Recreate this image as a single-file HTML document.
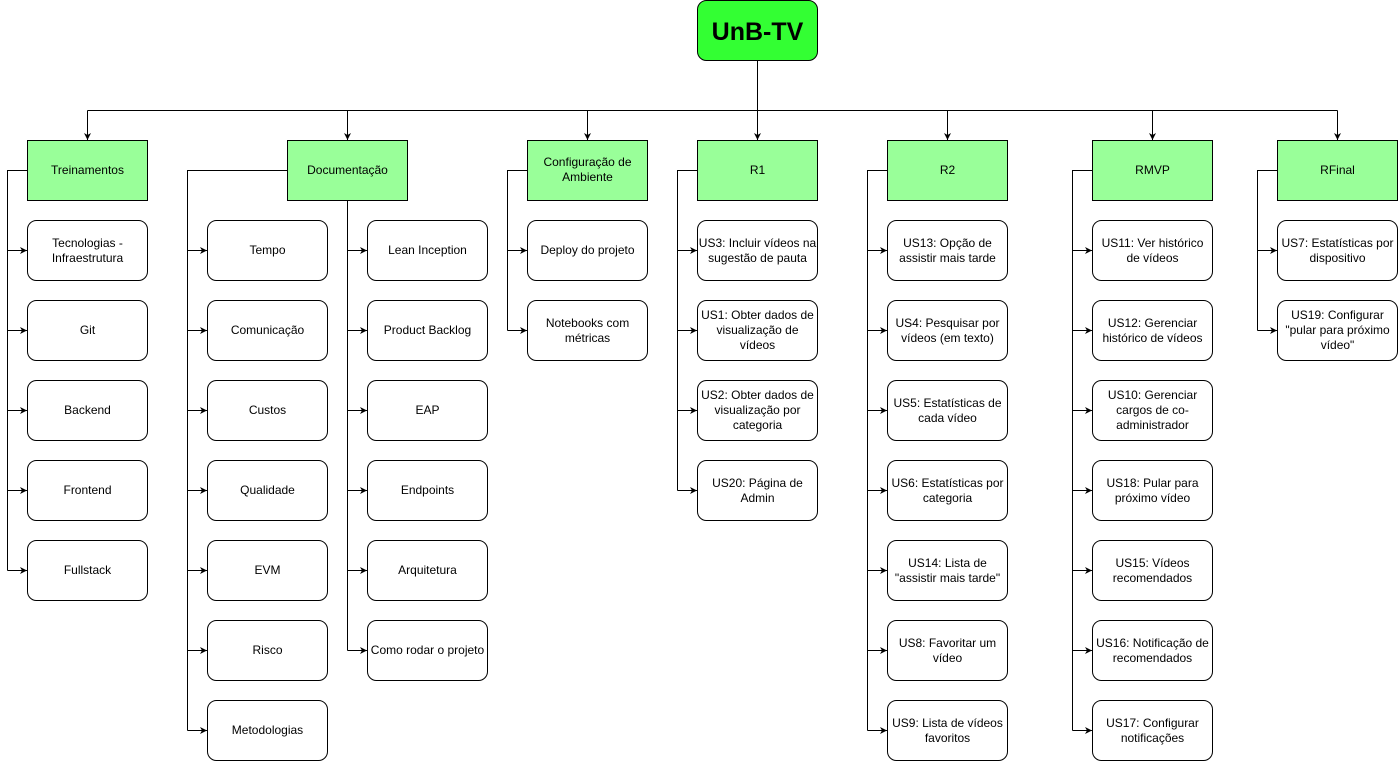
<!DOCTYPE html>
<html><head><meta charset="utf-8"><style>
html,body{margin:0;padding:0;background:#fff;width:1398px;height:761px;overflow:hidden}
svg text{font-family:"Liberation Sans",sans-serif;font-size:12px;fill:#000;text-anchor:middle}
.i{fill:#fff;stroke:#000;stroke-width:1}
.h{fill:#99ff99;stroke:#000;stroke-width:1}
.l{fill:none;stroke:#000;stroke-width:1}
</style></head><body>
<svg width="1398" height="761" xmlns="http://www.w3.org/2000/svg">
<defs><marker id="a" markerWidth="8" markerHeight="8" refX="7" refY="4" orient="auto" markerUnits="userSpaceOnUse"><path d="M0,0.5 L7,4 L0,7.5 L2,4 Z" fill="#000"/></marker></defs>
<!-- root -->
<rect x="697.5" y="0.5" width="120" height="60" rx="9" fill="#33ff33" stroke="#000"/>
<text x="757.5" y="40" style="font-size:25px;font-weight:bold">UnB-TV</text>
<path class="l" d="M757.5,60.5 V110.5 M87.5,110.5 H1337.5"/>
<path class="l" marker-end="url(#a)" d="M87.5,110.5 V140"/>
<path class="l" marker-end="url(#a)" d="M347.5,110.5 V140"/>
<path class="l" marker-end="url(#a)" d="M587.5,110.5 V140"/>
<path class="l" marker-end="url(#a)" d="M757.5,110.5 V140"/>
<path class="l" marker-end="url(#a)" d="M947.5,110.5 V140"/>
<path class="l" marker-end="url(#a)" d="M1152.5,110.5 V140"/>
<path class="l" marker-end="url(#a)" d="M1337.5,110.5 V140"/>
<!-- headers -->
<rect class="h" x="27.5" y="140.5" width="120" height="60"/><text x="87.5" y="174">Treinamentos</text>
<rect class="h" x="287.5" y="140.5" width="120" height="60"/><text x="347.5" y="174">Documentação</text>
<rect class="h" x="527.5" y="140.5" width="120" height="60"/><text x="587.5" y="166">Configuração de</text><text x="587.5" y="181">Ambiente</text>
<rect class="h" x="697.5" y="140.5" width="120" height="60"/><text x="757.5" y="174">R1</text>
<rect class="h" x="887.5" y="140.5" width="120" height="60"/><text x="947.5" y="174">R2</text>
<rect class="h" x="1092.5" y="140.5" width="120" height="60"/><text x="1152.5" y="174">RMVP</text>
<rect class="h" x="1277.5" y="140.5" width="120" height="60"/><text x="1337.5" y="174">RFinal</text>
<!-- trunk lines -->
<path class="l" d="M27.5,170.5 H7.5 V570.5"/>
<path class="l" d="M287.5,170.5 H187.5 V730.5"/>
<path class="l" d="M347.5,200.5 V650.5"/>
<path class="l" d="M527.5,170.5 H507.5 V330.5"/>
<path class="l" d="M697.5,170.5 H677.5 V490.5"/>
<path class="l" d="M887.5,170.5 H867.5 V730.5"/>
<path class="l" d="M1092.5,170.5 H1072.5 V730.5"/>
<path class="l" d="M1277.5,170.5 H1257.5 V330.5"/>
<!-- branch arrows -->
<g class="l" marker-end="url(#a)">
<path d="M7.5,250.5 H27"/><path d="M7.5,330.5 H27"/><path d="M7.5,410.5 H27"/><path d="M7.5,490.5 H27"/><path d="M7.5,570.5 H27"/>
<path d="M187.5,250.5 H207"/><path d="M187.5,330.5 H207"/><path d="M187.5,410.5 H207"/><path d="M187.5,490.5 H207"/><path d="M187.5,570.5 H207"/><path d="M187.5,650.5 H207"/><path d="M187.5,730.5 H207"/>
<path d="M347.5,250.5 H367"/><path d="M347.5,330.5 H367"/><path d="M347.5,410.5 H367"/><path d="M347.5,490.5 H367"/><path d="M347.5,570.5 H367"/><path d="M347.5,650.5 H367"/>
<path d="M507.5,250.5 H527"/><path d="M507.5,330.5 H527"/>
<path d="M677.5,250.5 H697"/><path d="M677.5,330.5 H697"/><path d="M677.5,410.5 H697"/><path d="M677.5,490.5 H697"/>
<path d="M867.5,250.5 H887"/><path d="M867.5,330.5 H887"/><path d="M867.5,410.5 H887"/><path d="M867.5,490.5 H887"/><path d="M867.5,570.5 H887"/><path d="M867.5,650.5 H887"/><path d="M867.5,730.5 H887"/>
<path d="M1072.5,250.5 H1092"/><path d="M1072.5,330.5 H1092"/><path d="M1072.5,410.5 H1092"/><path d="M1072.5,490.5 H1092"/><path d="M1072.5,570.5 H1092"/><path d="M1072.5,650.5 H1092"/><path d="M1072.5,730.5 H1092"/>
<path d="M1257.5,250.5 H1277"/><path d="M1257.5,330.5 H1277"/>
</g>
<!-- Treinamentos -->
<rect class="i" x="27.5" y="220.5" width="120" height="60" rx="9"/><text x="87.5" y="247">Tecnologias -</text><text x="87.5" y="262">Infraestrutura</text>
<rect class="i" x="27.5" y="300.5" width="120" height="60" rx="9"/><text x="87.5" y="334">Git</text>
<rect class="i" x="27.5" y="380.5" width="120" height="60" rx="9"/><text x="87.5" y="414">Backend</text>
<rect class="i" x="27.5" y="460.5" width="120" height="60" rx="9"/><text x="87.5" y="494">Frontend</text>
<rect class="i" x="27.5" y="540.5" width="120" height="60" rx="9"/><text x="87.5" y="574">Fullstack</text>
<!-- Documentação A -->
<rect class="i" x="207.5" y="220.5" width="120" height="60" rx="9"/><text x="267.5" y="254">Tempo</text>
<rect class="i" x="207.5" y="300.5" width="120" height="60" rx="9"/><text x="267.5" y="334">Comunicação</text>
<rect class="i" x="207.5" y="380.5" width="120" height="60" rx="9"/><text x="267.5" y="414">Custos</text>
<rect class="i" x="207.5" y="460.5" width="120" height="60" rx="9"/><text x="267.5" y="494">Qualidade</text>
<rect class="i" x="207.5" y="540.5" width="120" height="60" rx="9"/><text x="267.5" y="574">EVM</text>
<rect class="i" x="207.5" y="620.5" width="120" height="60" rx="9"/><text x="267.5" y="654">Risco</text>
<rect class="i" x="207.5" y="700.5" width="120" height="60" rx="9"/><text x="267.5" y="734">Metodologias</text>
<!-- Documentação B -->
<rect class="i" x="367.5" y="220.5" width="120" height="60" rx="9"/><text x="427.5" y="254">Lean Inception</text>
<rect class="i" x="367.5" y="300.5" width="120" height="60" rx="9"/><text x="427.5" y="334">Product Backlog</text>
<rect class="i" x="367.5" y="380.5" width="120" height="60" rx="9"/><text x="427.5" y="414">EAP</text>
<rect class="i" x="367.5" y="460.5" width="120" height="60" rx="9"/><text x="427.5" y="494">Endpoints</text>
<rect class="i" x="367.5" y="540.5" width="120" height="60" rx="9"/><text x="427.5" y="574">Arquitetura</text>
<rect class="i" x="367.5" y="620.5" width="120" height="60" rx="9"/><text x="427.5" y="654">Como rodar o projeto</text>
<!-- Config -->
<rect class="i" x="527.5" y="220.5" width="120" height="60" rx="9"/><text x="587.5" y="254">Deploy do projeto</text>
<rect class="i" x="527.5" y="300.5" width="120" height="60" rx="9"/><text x="587.5" y="327">Notebooks com</text><text x="587.5" y="342">métricas</text>
<!-- R1 -->
<rect class="i" x="697.5" y="220.5" width="120" height="60" rx="9"/><text x="757.5" y="247">US3: Incluir vídeos na</text><text x="757.5" y="262">sugestão de pauta</text>
<rect class="i" x="697.5" y="300.5" width="120" height="60" rx="9"/><text x="757.5" y="319">US1: Obter dados de</text><text x="757.5" y="334">visualização de</text><text x="757.5" y="349">vídeos</text>
<rect class="i" x="697.5" y="380.5" width="120" height="60" rx="9"/><text x="757.5" y="399">US2: Obter dados de</text><text x="757.5" y="414">visualização por</text><text x="757.5" y="429">categoria</text>
<rect class="i" x="697.5" y="460.5" width="120" height="60" rx="9"/><text x="757.5" y="487">US20: Página de</text><text x="757.5" y="502">Admin</text>
<!-- R2 -->
<rect class="i" x="887.5" y="220.5" width="120" height="60" rx="9"/><text x="947.5" y="247">US13: Opção de</text><text x="947.5" y="262">assistir mais tarde</text>
<rect class="i" x="887.5" y="300.5" width="120" height="60" rx="9"/><text x="947.5" y="327">US4: Pesquisar por</text><text x="947.5" y="342">vídeos (em texto)</text>
<rect class="i" x="887.5" y="380.5" width="120" height="60" rx="9"/><text x="947.5" y="407">US5: Estatísticas de</text><text x="947.5" y="422">cada vídeo</text>
<rect class="i" x="887.5" y="460.5" width="120" height="60" rx="9"/><text x="947.5" y="487">US6: Estatísticas por</text><text x="947.5" y="502">categoria</text>
<rect class="i" x="887.5" y="540.5" width="120" height="60" rx="9"/><text x="947.5" y="567">US14: Lista de</text><text x="947.5" y="582">"assistir mais tarde"</text>
<rect class="i" x="887.5" y="620.5" width="120" height="60" rx="9"/><text x="947.5" y="647">US8: Favoritar um</text><text x="947.5" y="662">vídeo</text>
<rect class="i" x="887.5" y="700.5" width="120" height="60" rx="9"/><text x="947.5" y="727">US9: Lista de vídeos</text><text x="947.5" y="742">favoritos</text>
<!-- RMVP -->
<rect class="i" x="1092.5" y="220.5" width="120" height="60" rx="9"/><text x="1152.5" y="247">US11: Ver histórico</text><text x="1152.5" y="262">de vídeos</text>
<rect class="i" x="1092.5" y="300.5" width="120" height="60" rx="9"/><text x="1152.5" y="327">US12: Gerenciar</text><text x="1152.5" y="342">histórico de vídeos</text>
<rect class="i" x="1092.5" y="380.5" width="120" height="60" rx="9"/><text x="1152.5" y="399">US10: Gerenciar</text><text x="1152.5" y="414">cargos de co-</text><text x="1152.5" y="429">administrador</text>
<rect class="i" x="1092.5" y="460.5" width="120" height="60" rx="9"/><text x="1152.5" y="487">US18: Pular para</text><text x="1152.5" y="502">próximo vídeo</text>
<rect class="i" x="1092.5" y="540.5" width="120" height="60" rx="9"/><text x="1152.5" y="567">US15: Vídeos</text><text x="1152.5" y="582">recomendados</text>
<rect class="i" x="1092.5" y="620.5" width="120" height="60" rx="9"/><text x="1152.5" y="647">US16: Notificação de</text><text x="1152.5" y="662">recomendados</text>
<rect class="i" x="1092.5" y="700.5" width="120" height="60" rx="9"/><text x="1152.5" y="727">US17: Configurar</text><text x="1152.5" y="742">notificações</text>
<!-- RFinal -->
<rect class="i" x="1277.5" y="220.5" width="120" height="60" rx="9"/><text x="1337.5" y="247">US7: Estatísticas por</text><text x="1337.5" y="262">dispositivo</text>
<rect class="i" x="1277.5" y="300.5" width="120" height="60" rx="9"/><text x="1337.5" y="319">US19: Configurar</text><text x="1337.5" y="334">"pular para próximo</text><text x="1337.5" y="349">vídeo"</text>
</svg>
</body></html>
